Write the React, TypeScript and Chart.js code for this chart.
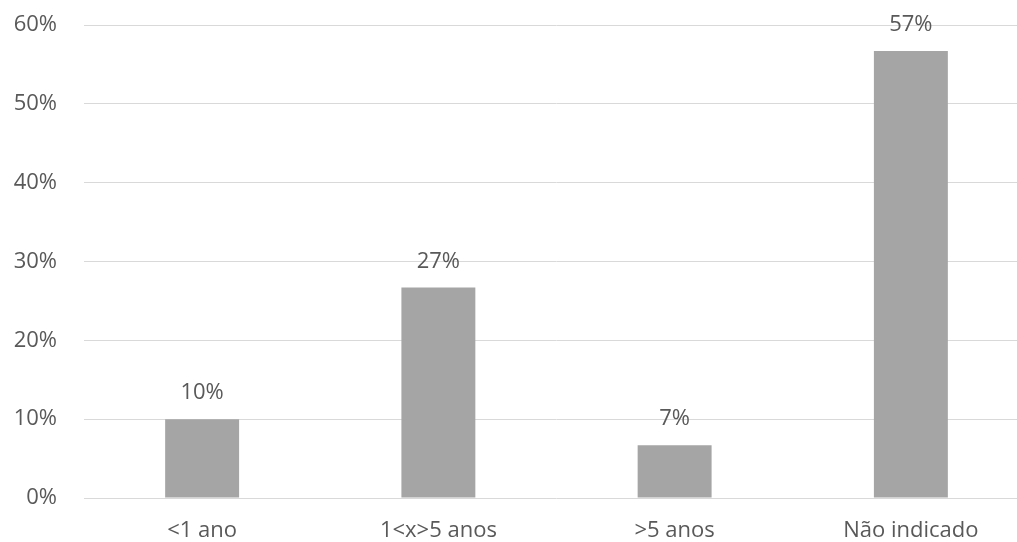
import React, { useEffect, useRef } from "react";
import { Chart, registerables } from "chart.js";

Chart.register(...registerables);

const categories: string[] = ["<1 ano", "1<x>5 anos", ">5 anos", "Não indicado"];
const shares: number[] = [10.0, 26.7, 6.7, 56.7];
const yTicks: number[] = [0, 10, 20, 30, 40, 50, 60];

const FONT = "'Open Sans', 'DejaVu Sans', sans-serif";
const TEXT = "#595959";

// Percentage labels above each bar
const valueLabels = {
  id: "valueLabels",
  afterDatasetsDraw(chart: Chart) {
    const { ctx } = chart;
    const meta = chart.getDatasetMeta(0);
    ctx.save();
    ctx.font = `22px ${FONT}`;
    ctx.fillStyle = TEXT;
    ctx.textAlign = "center";
    ctx.textBaseline = "alphabetic";
    meta.data.forEach((bar: any, i: number) => {
      const v = chart.data.datasets[0].data[i] as number;
      ctx.fillText(`${Math.round(v)}%`, bar.x, bar.y - 20);
    });
    ctx.restore();
  },
};

export default function App() {
  const ref = useRef<HTMLCanvasElement>(null);

  useEffect(() => {
    if (!ref.current) return;
    const chart = new Chart(ref.current, {
      type: "bar",
      data: {
        labels: categories,
        datasets: [
          {
            data: shares,
            backgroundColor: "#A5A5A5",
            borderWidth: 0,
            barPercentage: 1,
            categoryPercentage: 0.313,
          },
        ],
      },
      options: {
        responsive: false,
        animation: false,
        devicePixelRatio: 1,
        layout: { padding: { top: 25, left: 0, right: 0, bottom: 0 } },
        plugins: {
          legend: { display: false },
          tooltip: { enabled: false },
        },
        scales: {
          x: {
            grid: { display: false, drawTicks: false },
            border: { display: false },
            ticks: {
              color: TEXT,
              font: { family: FONT, size: 22 },
              padding: 20,
              maxRotation: 0,
            },
            afterFit(scale: any) {
              scale.height = 44;
            },
          },
          y: {
            min: 0,
            max: 60,
            afterBuildTicks(scale: any) {
              scale.ticks = yTicks.map((v) => ({ value: v }));
            },
            grid: { color: "#D9D9D9", lineWidth: 1, drawTicks: false },
            border: { display: false },
            ticks: {
              color: TEXT,
              font: { family: FONT, size: 22 },
              padding: 27,
              callback: (v: any) => `${v}%`,
            },
            afterFit(scale: any) {
              scale.width = 84;
              scale.paddingTop = 0;
              scale.paddingBottom = 0;
            },
          },
        },
      },
      plugins: [valueLabels],
    });
    return () => chart.destroy();
  }, []);

  return (
    <div
      style={{
        position: "fixed",
        left: 0,
        top: 0,
        width: 1017,
        height: 542,
        overflow: "hidden",
        background: "#fff",
      }}
    >
      <canvas ref={ref} width={1029} height={542} style={{ width: 1029, height: 542, display: "block" }} />
    </div>
  );
}
